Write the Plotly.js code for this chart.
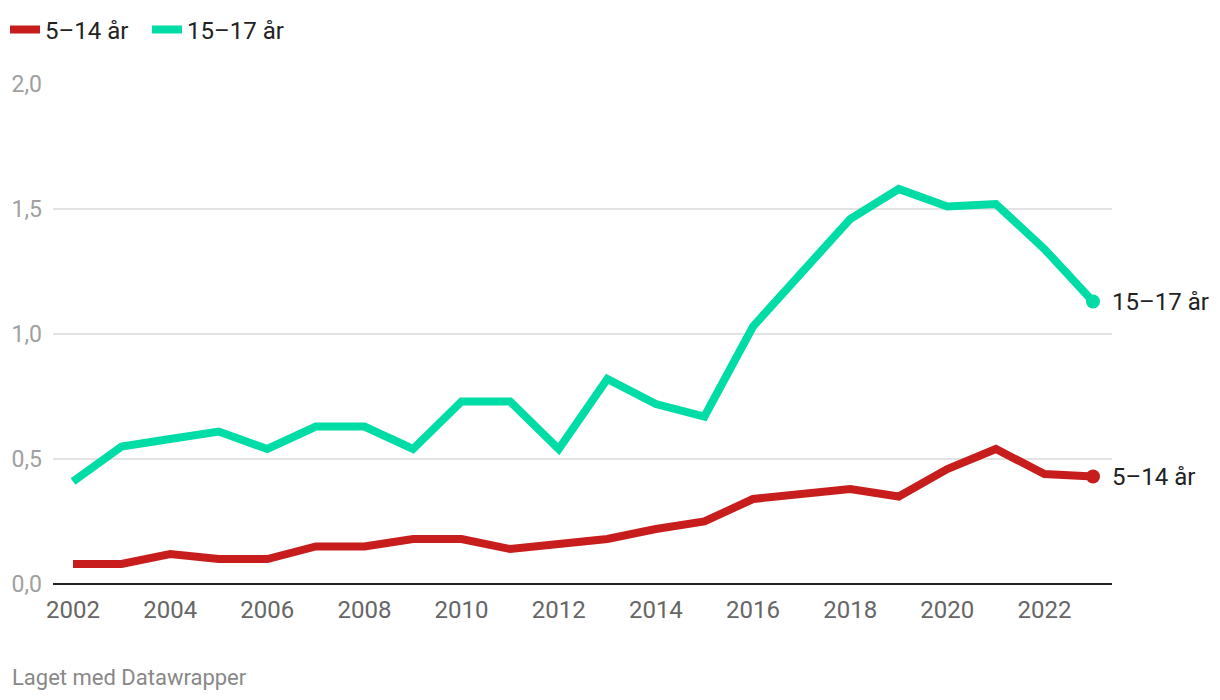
<!DOCTYPE html>
<html>
<head>
<meta charset="utf-8">
<script src="https://cdn.plot.ly/plotly-3.0.1.min.js"></script>
<style>
html,body{margin:0;padding:0;background:#fff;}
#chart{width:1220px;height:700px;}
</style>
</head>
<body>
<div id="chart"></div>
<script>
const years = [2002,2003,2004,2005,2006,2007,2008,2009,2010,2011,2012,2013,2014,2015,2016,2017,2018,2019,2020,2021,2022,2023];
const seriesNames = ["5–14 år", "15–17 år"];
const values5to14 = [0.08,0.08,0.12,0.10,0.10,0.15,0.15,0.18,0.18,0.14,0.16,0.18,0.22,0.25,0.34,0.36,0.38,0.35,0.46,0.54,0.44,0.43];
const values15to17 = [0.41,0.55,0.58,0.61,0.54,0.63,0.63,0.54,0.73,0.73,0.54,0.82,0.72,0.67,1.03,1.24,1.46,1.58,1.51,1.52,1.34,1.13];
const xTicks = [2002,2004,2006,2008,2010,2012,2014,2016,2018,2020,2022];
const yTicks = [0,0.5,1.0,1.5,2.0];
const colors = ["#c71e1d", "#00dca6"];
const allValues = [values5to14, values15to17];

const font = "Roboto, 'Noto Sans', sans-serif";
const W = 1220, H = 700, L = 53, R = 108, T = 84, B = 116;
const pw = W - L - R, ph = H - T - B;

const traces = [];
const annotations = [];
allValues.forEach((vals, i) => {
  traces.push({
    x: years, y: vals, type: "scatter", mode: "lines",
    name: seriesNames[i],
    line: {color: colors[i], width: 8, shape: "linear"},
    hoverinfo: "skip"
  });
  const n = vals.length - 1;
  traces.push({
    x: [years[n]], y: [vals[n]], type: "scatter", mode: "markers",
    marker: {color: colors[i], size: 14},
    showlegend: false, hoverinfo: "skip"
  });
  annotations.push({
    x: years[n], y: vals[n], xref: "x", yref: "y",
    text: seriesNames[i], showarrow: false, xanchor: "left", yanchor: "middle",
    xshift: 17, font: {family: font, size: 24, color: "#222"}
  });
});
annotations.push({
  x: (10 - L) / pw, y: -(677 - (H - B)) / ph, xref: "paper", yref: "paper",
  text: "Laget med Datawrapper",
  showarrow: false, xanchor: "left", yanchor: "middle",
  font: {family: font, size: 22, color: "#888"}
});

const layout = {
  width: W, height: H,
  margin: {l: L, r: R, t: T, b: B, autoexpand: false},
  paper_bgcolor: "#fff", plot_bgcolor: "#fff",
  separators: ", ",
  font: {family: font},
  showlegend: true,
  legend: {
    orientation: "h", x: (5 - L) / pw, y: 1 + 54 / ph, xanchor: "left", yanchor: "middle",
    font: {family: font, size: 24, color: "#222"},
    itemwidth: 30, entrywidth: 97, tracegroupgap: 0, itemclick: false
  },
  xaxis: {
    range: [2001.588, 2023.391], tickvals: xTicks, ticktext: xTicks.map(String),
    showgrid: false, zeroline: false, showline: false, ticks: "",
    automargin: false, ticklabelstandoff: 9,
    tickfont: {family: font, size: 24, color: "#666"}, fixedrange: true
  },
  yaxis: {
    range: [0, 2.0], tickvals: yTicks, tickformat: ".1f",
    showgrid: true, gridcolor: "#e3e3e3", gridwidth: 1.5,
    zeroline: true, zerolinecolor: "#222", zerolinewidth: 2,
    showline: false, ticks: "", ticklabelstandoff: 10, automargin: false,
    tickfont: {family: font, size: 23, color: "#a0a0a0"}, fixedrange: true
  },
  annotations: annotations
};
Plotly.newPlot("chart", traces, layout, {displayModeBar: false, staticPlot: true});
</script>
</body>
</html>
